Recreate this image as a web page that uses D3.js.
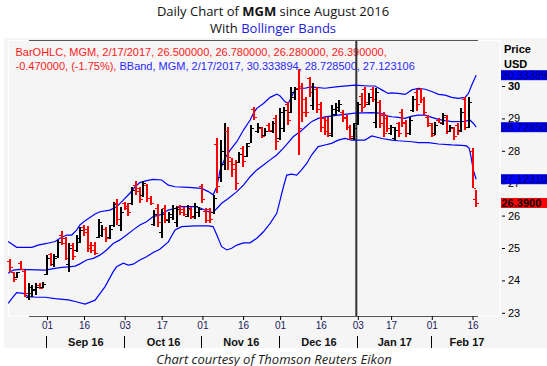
<!DOCTYPE html>
<html><head><meta charset="utf-8">
<script src="https://cdn.jsdelivr.net/npm/d3@7"></script>
<style>body{margin:0;background:#fff}svg{display:block}</style>
</head><body><svg id="c" width="547" height="366"></svg>
<script>
// ---- data: daily OHLC, trading-day index 0 = Aug 18 2016 ... 126 = Feb 17 2017
const opens = [24.60,24.25,24.10,24.55,24.30,23.50,23.60,23.70,23.85,23.80,
24.20,24.80,24.50,24.75,25.40,25.30,24.50,25.10,24.95,25.20,
25.65,25.60,25.10,25.10,25.35,25.40,25.60,25.35,25.70,26.40,
25.70,26.40,26.30,26.40,26.95,26.85,26.65,26.95,26.55,25.75,
26.25,25.50,26.25,25.85,25.95,25.80,26.30,26.20,26.00,26.20,
26.00,26.10,26.90,26.15,26.20,26.10,28.20,27.20,27.60,28.60,
27.70,27.60,27.65,28.10,27.85,28.25,29.30,28.60,28.70,28.50,
28.80,28.60,29.00,28.40,28.70,29.45,29.20,29.65,29.95,30.00,
29.60,30.25,29.40,29.90,29.45,29.00,28.95,28.50,29.15,29.25,
29.20,29.05,28.75,28.40,28.85,29.70,29.90,29.45,29.90,28.90,
29.50,29.10,29.00,28.55,28.40,28.85,29.20,28.90,28.55,29.25,
29.80,29.90,29.60,29.05,28.80,28.55,28.95,28.85,29.05,28.62,
28.70,28.80,28.65,29.60,28.75,28.00,26.50];
const highs = [24.65,24.27,24.27,24.61,24.32,23.93,23.86,23.91,23.93,23.96,
24.78,24.86,24.80,25.25,25.52,25.35,25.14,25.14,25.40,25.66,
25.71,25.68,25.19,25.17,25.88,25.71,25.66,25.71,26.43,26.50,
26.27,26.43,26.40,26.89,27.07,26.89,27.07,26.99,26.60,26.17,
26.36,26.19,26.33,26.12,26.33,26.30,26.33,26.28,26.33,26.28,
26.40,26.28,26.99,26.22,26.22,26.64,28.40,28.33,28.85,28.74,
27.77,27.72,27.97,28.15,28.23,28.80,29.36,28.85,28.74,28.69,
28.85,28.93,29.10,29.31,29.36,29.52,29.98,29.98,30.51,30.08,
29.67,30.29,30.08,29.98,29.52,29.05,29.05,29.41,29.46,29.57,
29.26,29.10,28.80,28.85,29.52,29.77,29.98,29.77,29.98,29.93,
29.57,29.21,29.10,28.80,28.74,28.90,29.28,28.95,29.05,29.69,
29.90,29.93,29.67,29.10,28.85,28.90,29.00,29.16,29.10,28.80,
28.74,28.85,29.31,29.67,29.65,28.08,26.78];
const lows = [24.27,23.96,24.06,24.32,23.50,23.40,23.50,23.55,23.72,23.76,
24.17,24.44,24.42,24.68,25.09,24.63,24.27,24.63,24.89,25.14,
25.38,24.89,24.84,24.78,25.30,25.35,25.19,25.27,25.66,25.71,
25.53,26.17,25.99,26.33,26.64,26.40,26.56,26.43,26.33,25.68,
25.64,25.30,25.76,25.76,25.86,25.66,26.02,25.99,25.97,25.88,
25.91,25.97,26.40,25.76,25.76,26.05,26.69,27.05,27.41,27.41,
27.20,26.79,27.61,27.51,27.82,28.23,28.95,28.54,28.38,28.46,
28.59,28.54,28.02,28.33,28.59,28.80,29.16,29.57,27.87,28.90,
29.05,29.67,29.26,29.16,28.59,28.49,28.44,28.42,29.10,29.21,
28.90,28.64,28.33,28.33,28.80,29.21,29.36,29.41,29.52,28.69,
28.69,28.44,28.59,28.49,28.33,28.44,28.74,28.42,28.49,29.21,
29.24,29.49,29.10,28.74,28.42,28.49,28.85,28.80,28.52,28.59,
28.33,28.49,28.59,28.64,28.69,26.84,26.28];
const closes = [24.40,24.05,24.25,24.35,23.60,23.80,23.75,23.80,23.78,23.90,
24.70,24.50,24.70,25.20,25.15,24.70,25.00,24.75,25.30,25.55,
25.50,25.00,24.95,24.85,25.80,25.60,25.30,25.60,26.35,25.90,
26.10,26.25,26.10,26.80,26.75,26.50,27.00,26.55,26.40,26.05,
25.80,26.05,25.90,26.05,26.25,26.20,26.10,26.05,26.25,25.95,
26.30,26.20,26.50,25.85,25.90,26.55,26.90,28.00,28.60,27.80,
27.45,27.00,27.90,27.70,28.15,28.70,29.05,28.75,28.45,28.60,
28.65,28.85,28.30,29.20,29.25,28.95,29.80,29.90,28.70,29.20,
29.20,29.80,29.90,29.30,28.75,28.60,28.55,29.30,29.35,29.45,
29.00,28.75,28.45,28.70,29.45,29.35,29.50,29.65,29.60,29.80,
28.85,28.55,28.70,28.75,28.65,28.55,28.85,28.55,28.95,29.60,
29.45,29.60,29.20,28.85,28.50,28.80,28.90,29.10,28.60,28.75,
28.45,28.60,29.20,28.75,29.50,26.86,26.39];

// Bollinger band vertices: [trading-day index, price]
const upperBand = [[-0.5,25.20],[1.8,25.02],[5.9,25.02],[7.6,25.09],[9.9,25.14],[12.2,25.20],[13.5,25.30],[15.3,25.40],[16.7,25.40],[18.0,25.55],[18.9,25.71],[20.5,25.86],[23.0,26.05],[24.3,26.12],[27.0,26.17],[28.8,26.27],[30.6,26.48],[32.4,26.69],[33.8,26.89],[35.1,27.02],[36.9,27.08],[38.7,27.12],[41.0,27.10],[42.8,26.94],[44.6,26.89],[48.2,26.87],[51.8,26.84],[53.6,26.74],[54.9,26.64],[55.9,26.89],[56.8,27.41],[58.1,27.77],[59.5,28.02],[61.3,28.28],[63.1,28.64],[64.9,28.95],[65.8,29.16],[66.7,29.31],[68.5,29.46],[70.3,29.65],[72.1,29.75],[73.0,29.69],[74.3,29.52],[75.2,29.46],[76.1,29.67],[77.0,29.88],[78.4,29.93],[79.7,29.93],[81.3,29.97],[85.1,29.93],[88.7,29.98],[93.2,30.03],[96.8,30.00],[98.6,30.00],[100.5,29.88],[102.2,29.77],[103.2,29.79],[104.9,29.77],[106.8,29.74],[108.6,29.88],[110.4,29.93],[112.2,29.90],[114.0,29.83],[115.8,29.74],[117.6,29.72],[119.4,29.65],[121.2,29.62],[123.0,29.65],[123.9,29.77],[124.8,30.03],[126,30.334]];
const middleBand = [[-0.5,24.22],[0.9,24.32],[2.7,24.34],[9.5,24.32],[12.2,24.37],[14.0,24.40],[15.8,24.42],[17.6,24.44],[18.9,24.51],[20.7,24.63],[22.5,24.68],[24.3,24.78],[26.1,24.94],[27.9,25.14],[29.7,25.25],[31.5,25.40],[33.3,25.56],[35.1,25.71],[36.9,25.81],[38.7,25.97],[40.5,26.02],[42.8,26.17],[44.6,26.22],[46.4,26.28],[50.0,26.28],[51.8,26.22],[53.6,26.12],[54.9,26.09],[55.9,26.22],[57.2,26.38],[59.0,26.53],[61.3,26.74],[63.1,26.94],[64.9,27.20],[66.7,27.41],[68.5,27.56],[70.3,27.72],[72.1,27.87],[73.9,28.08],[75.2,28.25],[76.6,28.44],[78.4,28.59],[79.7,28.72],[81.5,28.90],[83.3,29.00],[85.1,29.05],[88.7,29.10],[93.2,29.16],[97.8,29.18],[100.0,29.16],[102.2,29.07],[103.2,29.05],[104.9,29.03],[106.8,29.00],[108.6,29.07],[110.4,29.10],[112.2,29.10],[114.0,29.03],[115.8,28.97],[117.6,28.93],[119.4,28.90],[123.0,28.91],[124.3,28.95],[125.2,28.85],[126,28.7285]];
const lowerBand = [[-0.5,23.29],[0.9,23.50],[1.8,23.62],[3.6,23.60],[4.9,23.50],[7.2,23.48],[9.5,23.48],[12.2,23.44],[15.8,23.40],[17.6,23.35],[20.3,23.27],[23.0,23.39],[25.7,23.81],[27.9,24.27],[28.8,24.42],[30.6,24.53],[32.0,24.47],[33.3,24.50],[35.1,24.63],[36.9,24.73],[38.7,24.86],[40.5,24.96],[42.8,25.19],[44.6,25.56],[46.4,25.66],[50.0,25.68],[53.6,25.68],[54.9,25.66],[55.9,25.40],[57.2,25.04],[58.6,24.94],[59.9,24.99],[61.3,25.09],[63.1,25.16],[64.9,25.16],[66.7,25.30],[68.5,25.50],[70.3,25.76],[72.1,26.07],[73.0,26.48],[73.9,26.89],[74.8,27.25],[76.1,27.28],[77.5,27.25],[78.8,27.41],[80.2,27.61],[81.5,27.87],[83.3,28.13],[85.1,28.18],[86.9,28.23],[88.7,28.33],[90.5,28.38],[92.3,28.33],[95.9,28.33],[97.8,28.46],[100.5,28.38],[103.2,28.33],[104.9,28.31],[108.6,28.28],[110.4,28.25],[113.1,28.25],[115.8,28.21],[119.4,28.18],[122.1,28.17],[123.4,28.15],[124.1,28.08],[124.6,27.82],[125.2,27.41],[126,27.123]];

const dayTicks = [[10,"01"],[20,"16"],[31,"03"],[41,"17"],[52,"01"],[63,"16"],[73,"01"],[84,"16"],[94,"03"],[103,"17"],[114,"01"],[125,"16"]];
const monthStarts = [10,31,52,73,94,114];
const monthLabels = [[20.5,"Sep 16"],[41.5,"Oct 16"],[62.5,"Nov 16"],[83.5,"Dec 16"],[104,"Jan 17"],[123.5,"Feb 17"]];
const priceTicks = [23,24,25,26,27,28,29,30];
const lastValues = [[30.333894,"30.33389","band"],[28.7285,"28.72850","band"],[27.123106,"27.12310","band"],[26.39,"26.3900","price"]];
const markerDay = 93.6; // Jan 3 2017 marker line
const legend1 = "BarOHLC, MGM, 2/17/2017, 26.500000, 26.780000, 26.280000, 26.390000,";
const legend2a = "-0.470000, (-1.75%), ";
const legend2b = "BBand, MGM, 2/17/2017, 30.333894, 28.728500, 27.123106";

// ---- drawing
const svg = d3.select("#c");
const x = d3.scaleLinear().domain([0,126]).range([10,476.2]);
const y = d3.scaleLinear().domain([23,30]).range([312.8,86]);
const AX = "'Liberation Sans', Arial, sans-serif";

// background panel
svg.append("rect").attr("x",4).attr("y",38).attr("width",543).attr("height",310).attr("fill","#f5f5f5");
svg.append("rect").attr("x",8.5).attr("y",40.5).attr("width",491.5).attr("height",275.5)
  .attr("fill","none").attr("stroke","#ffffff").attr("stroke-width",1);
svg.append("line").attr("x1",29).attr("x2",478).attr("y1",40.5).attr("y2",40.5).attr("stroke","#555").attr("stroke-width",1);
svg.append("line").attr("x1",29).attr("x2",478).attr("y1",316.5).attr("y2",316.5).attr("stroke","#555").attr("stroke-width",1);

// title
const t1 = svg.append("text").attr("x",273).attr("y",16).attr("text-anchor","middle")
  .attr("font-family","'Open Sans', sans-serif").attr("font-size",13).attr("fill","#111");
t1.append("tspan").text("Daily Chart of ");
t1.append("tspan").attr("font-weight","bold").text("MGM");
t1.append("tspan").text(" since August 2016");
const t2 = svg.append("text").attr("x",273).attr("y",33).attr("text-anchor","middle")
  .attr("font-family","'Open Sans', sans-serif").attr("font-size",13).attr("fill","#111");
t2.append("tspan").text("With ");
t2.append("tspan").attr("fill","#2020e0").text("Bollinger Bands");

// legend text
svg.append("text").attr("x",15.5).attr("y",55.5).attr("font-family",AX).attr("font-size",11)
  .attr("fill","#ff1a1a").text(legend1);
const lg2 = svg.append("text").attr("x",15.5).attr("y",69.5).attr("font-family",AX).attr("font-size",11);
lg2.append("tspan").attr("fill","#ff1a1a").text(legend2a);
lg2.append("tspan").attr("fill","#2a2aff").text(legend2b);

// marker vertical line
svg.append("line").attr("x1",x(markerDay)).attr("x2",x(markerDay)).attr("y1",41).attr("y2",316)
  .attr("stroke","#333").attr("stroke-width",2);

// bands
const line = d3.line().x(d=>x(d[0])).y(d=>y(d[1]));
[upperBand, middleBand, lowerBand].forEach(b=>{
  svg.append("path").attr("d",line(b)).attr("fill","none").attr("stroke","#0000ff").attr("stroke-width",1.2);
});

// OHLC bars
const bars = svg.append("g").attr("shape-rendering","crispEdges");
opens.forEach((o,i)=>{
  const cx = Math.round(x(i));
  const col = closes[i] >= o ? "#000000" : "#ff0000";
  bars.append("rect").attr("x",cx-1).attr("width",2)
    .attr("y",y(highs[i])).attr("height",Math.max(1,y(lows[i])-y(highs[i]))).attr("fill",col);
  bars.append("rect").attr("x",cx-3).attr("width",2).attr("y",Math.round(y(o))).attr("height",1).attr("fill",col);
  bars.append("rect").attr("x",cx+1).attr("width",2).attr("y",Math.round(y(closes[i]))).attr("height",1).attr("fill",col);
});

// right price axis
const ra = svg.append("g").attr("transform","translate(502,0)")
  .call(d3.axisRight(y).tickValues(priceTicks).tickSize(3).tickPadding(3).tickFormat(d3.format("d")));
ra.select(".domain").remove();
ra.selectAll("line").attr("stroke","#000");
ra.selectAll("text").attr("font-family",AX).attr("font-size",11).attr("fill","#000")
  .attr("font-weight",d=>d===30?"bold":"normal");

svg.append("text").attr("x",504).attr("y",53).attr("font-family",AX).attr("font-size",11).attr("font-weight","bold").text("Price");
svg.append("text").attr("x",504).attr("y",68).attr("font-family",AX).attr("font-size",11).attr("font-weight","bold").text("USD");

// last value boxes
lastValues.forEach(([v,label,kind])=>{
  const yy = y(v);
  svg.append("rect").attr("x",501).attr("y",yy-5).attr("width",46).attr("height",10)
    .attr("fill",kind==="band"?"#0000ff":"#ff0000");
  svg.append("text").attr("x",501.5).attr("y",yy+4).attr("font-family",AX).attr("font-size",11)
    .attr("font-weight",kind==="band"?"normal":"bold")
    .attr("fill",kind==="band"?"#000060":"#000").text(label);
});

// bottom axis
const ba = svg.append("g").attr("transform","translate(0,316)")
  .call(d3.axisBottom(x).tickValues(dayTicks.map(d=>d[0])).tickSize(4).tickPadding(2)
    .tickFormat(d=>dayTicks.find(t=>t[0]===d)[1]));
ba.select(".domain").remove();
ba.selectAll("line").attr("stroke","#000");
ba.selectAll("text").attr("font-family",AX).attr("font-size",10).attr("fill","#1a1a5a");

monthStarts.forEach(i=>{
  svg.append("line").attr("x1",Math.round(x(i))-0.5).attr("x2",Math.round(x(i))-0.5)
    .attr("y1",336).attr("y2",348).attr("stroke","#000").attr("stroke-width",1);
});
monthLabels.forEach(([i,l])=>{
  svg.append("text").attr("x",x(i)).attr("y",346).attr("text-anchor","middle")
    .attr("font-family",AX).attr("font-size",11).attr("font-weight","bold").attr("fill","#111").text(l);
});

// caption
svg.append("text").attr("x",274).attr("y",363.5).attr("text-anchor","middle")
  .attr("font-family","'Open Sans', sans-serif").attr("font-style","italic").attr("font-size",13)
  .attr("fill","#222").text("Chart courtesy of Thomson Reuters Eikon");
</script></body></html>
